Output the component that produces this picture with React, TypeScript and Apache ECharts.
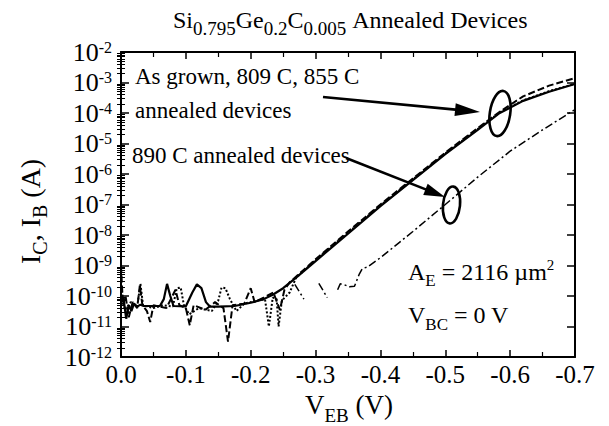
import React, { useEffect, useRef } from 'react';
import * as echarts from 'echarts';

const FONT = 'Liberation Serif, serif';

// ---- data (V_EB in volts, current in amperes) ----
const solidV = [0, -0.004, -0.008, -0.012, -0.016, -0.02, -0.025, -0.03, -0.035, -0.04, -0.06, -0.066, -0.071, -0.076, -0.081, -0.1, -0.11, -0.117, -0.124, -0.131, -0.137, -0.15, -0.175, -0.2, -0.22, -0.234, -0.25, -0.27, -0.3, -0.35, -0.4, -0.45, -0.5, -0.55, -0.584, -0.62, -0.66, -0.7];
const solidI = [1.0e-10, 7.9e-11, 1.8e-11, 5.0e-11, 3.2e-11, 5.6e-11, 4.5e-11, 5.2e-11, 4.7e-11, 4.7e-11, 4.7e-11, 7.9e-11, 2.5e-10, 1.0e-10, 4.7e-11, 4.6e-11, 1.3e-10, 2.4e-10, 1.8e-10, 6.3e-11, 4.5e-11, 4.5e-11, 4.7e-11, 6.0e-11, 7.9e-11, 1.1e-10, 1.8e-10, 4.0e-10, 1.4e-9, 1.1e-8, 8.9e-8, 6.3e-7, 4.5e-6, 2.8e-5, 1.0e-4, 2.5e-4, 5.0e-4, 8.9e-4];

const dashedV = [0, -0.003, -0.007, -0.012, -0.018, -0.025, -0.029, -0.033, -0.04, -0.045, -0.05, -0.07, -0.084, -0.09, -0.1, -0.106, -0.112, -0.13, -0.145, -0.158, -0.165, -0.172, -0.19, -0.2, -0.206, -0.22, -0.235, -0.245, -0.252, -0.26, -0.3, -0.35, -0.4, -0.45, -0.5, -0.55, -0.584, -0.62, -0.66, -0.7];
const dashedI = [1.0e-9, 5.0e-11, 1.0e-10, 2.0e-11, 6.3e-11, 4.0e-11, 2.2e-10, 5.0e-11, 3.2e-11, 1.4e-11, 5.0e-11, 4.0e-11, 1.6e-10, 5.0e-11, 4.0e-11, 1.1e-11, 5.0e-11, 3.5e-11, 6.3e-11, 4.0e-11, 3.2e-12, 5.0e-11, 5.6e-11, 1.8e-10, 6.3e-11, 8.9e-11, 1.3e-10, 3.5e-11, 1.6e-10, 2.8e-10, 1.6e-9, 1.3e-8, 1.0e-7, 7.1e-7, 5.0e-6, 3.2e-5, 1.1e-4, 3.5e-4, 7.9e-4, 1.4e-3];

const dottedV = [0, -0.006, -0.015, -0.025, -0.03, -0.034, -0.05, -0.065, -0.08, -0.086, -0.092, -0.097, -0.105, -0.12, -0.14, -0.15, -0.155, -0.161, -0.168, -0.178, -0.19, -0.21, -0.222, -0.228, -0.234, -0.24, -0.243, -0.248, -0.26, -0.27, -0.3, -0.35, -0.4, -0.45, -0.5, -0.55, -0.584, -0.62, -0.66, -0.7];
const dottedI = [2.0e-10, 3.5e-11, 6.3e-11, 4.5e-11, 2.5e-10, 5.0e-11, 4.0e-11, 5.0e-11, 4.5e-11, 1.8e-10, 1.9e-10, 5.0e-11, 2.5e-11, 4.0e-11, 3.2e-11, 7.1e-11, 1.9e-10, 1.8e-10, 7.9e-11, 3.2e-11, 5.6e-11, 7.1e-11, 7.9e-11, 1.0e-11, 8.9e-11, 7.9e-11, 1.0e-11, 7.1e-11, 1.3e-10, 4.0e-10, 1.5e-9, 1.2e-8, 9.3e-8, 6.6e-7, 4.7e-6, 3.0e-5, 1.05e-4, 2.6e-4, 5.2e-4, 9.1e-4];

const annealV = [-0.268, -0.282, -0.29, -0.305, -0.318, -0.326, -0.334, -0.338, -0.343, -0.352, -0.36, -0.367, -0.372, -0.38, -0.4, -0.45, -0.5, -0.55, -0.6, -0.65, -0.7];
const annealI = [2.4e-10, 7.9e-11, null, 2.6e-10, 8.9e-11, null, 1.6e-10, 2.5e-10, 2.4e-10, 2.0e-10, 2.1e-10, 5.0e-10, 7.9e-10, 8.9e-10, 1.8e-9, 1.3e-8, 1.0e-7, 7.9e-7, 5.6e-6, 2.8e-5, 1.3e-4];

// axis ranges / ticks
const X_MIN = -0.7;
const X_MAX = 0;
const X_STEP = 0.1;
const Y_MIN = 1e-12;
const Y_MAX = 1e-2;
const MINOR_LOG: number[] = [];
for (let n = -12; n < -2; n++) for (let k = 2; k <= 9; k++) MINOR_LOG.push(n + Math.log10(k));

// texts
const TITLE: [string, number, number][] = [
  ['Si', 24, 0], ['0.795', 19, 7], ['Ge', 24, 0], ['0.2', 19, 7], ['C', 24, 0], ['0.005', 19, 7], [' Annealed Devices', 24, 0],
];
const XNAME: [string, number, number][] = [['V', 27, 0], ['EB', 19, 8], [' (V)', 27, 0]];
const YNAME: [string, number, number][] = [['I', 28, 0], ['C', 20, 7], [', I', 28, 0], ['B', 20, 7], [' (A)', 28, 0]];
const AREA: [string, number, number][] = [['A', 24, 0], ['E', 17, 6], [' = 2116 \u00b5m', 24, 0], ['2', 15, -10]];
const VBC: [string, number, number][] = [['V', 24, 0], ['BC', 17, 7], [' = 0 V', 24, 0]];
const NOTE1 = 'As grown, 809 C, 855 C';
const NOTE2 = 'annealed devices';
const NOTE3 = '890 C annealed devices';

let measureCtx: CanvasRenderingContext2D | null = null;
function measure(t: string, size: number) {
  if (!measureCtx) measureCtx = document.createElement('canvas').getContext('2d');
  measureCtx!.font = `${size}px Liberation Serif, serif`;
  return measureCtx!.measureText(t).width;
}

function richText(pieces: [string, number, number][], x: number, y: number, rotated = false) {
  const els: any[] = [];
  let adv = 0;
  for (const [raw, size, dy] of pieces) {
    const lead = raw.length - raw.replace(/^\s+/, '').length;
    if (lead > 0) adv += measure(raw.slice(0, lead), size);
    const t = raw.slice(lead);
    const off = dy - 0.3375 * size;
    const px = rotated ? x + off : x + adv;
    const py = rotated ? y - adv : y + off;
    els.push({
      type: 'text', x: px, y: py, rotation: rotated ? Math.PI / 2 : 0, silent: true,
      style: { text: t, fontSize: size, fontFamily: FONT, fill: '#000', align: 'left', verticalAlign: 'middle', textAlign: 'left', textVerticalAlign: 'middle' },
    });
    adv += measure(t, size);
  }
  return els;
}

function arrow(x0: number, y0: number, x1: number, y1: number, len: number, hw: number, lw: number) {
  const dx = x1 - x0, dy = y1 - y0, d = Math.hypot(dx, dy), ux = dx / d, uy = dy / d;
  const bx = x1 - ux * len, by = y1 - uy * len;
  return [
    { type: 'line', silent: true, shape: { x1: x0, y1: y0, x2: bx + ux * 3, y2: by + uy * 3 }, style: { stroke: '#000', lineWidth: lw } },
    { type: 'polygon', silent: true, shape: { points: [[x1, y1], [bx - uy * hw, by + ux * hw], [bx + uy * hw, by - ux * hw]] }, style: { fill: '#000' } },
  ];
}

function ellipse(cx: number, cy: number, rx: number, ry: number, rot: number) {
  return { type: 'ellipse', silent: true, x: cx, y: cy, rotation: rot, shape: { cx: 0, cy: 0, rx, ry }, style: { fill: 'transparent', stroke: '#000', lineWidth: 2.6 } };
}

const toData = (vs: number[], is: (number | null)[]) => vs.map((v, k) => [v, is[k] == null ? '-' : is[k]]);

export default function App() {
  const ref = useRef<HTMLDivElement>(null);
  useEffect(() => {
    document.body.style.margin = '0';
    const chart = echarts.init(ref.current!, undefined, { renderer: 'svg' });
    const tickLine = { color: '#000', width: 1.5 };
    const xBase = {
      type: 'value', min: X_MIN, max: X_MAX, interval: X_STEP, inverse: true,
      axisLine: { show: true, onZero: false, lineStyle: { color: '#000', width: 2 } },
      axisTick: { show: true, inside: true, length: 7, lineStyle: tickLine },
      minorTick: { show: true, splitNumber: 2, length: 5, lineStyle: { color: '#000', width: 1.2 } },
      splitLine: { show: false },
    };
    const yLogBase = {
      type: 'log', logBase: 10, min: Y_MIN, max: Y_MAX, interval: 1,
      axisLine: { show: true, onZero: false, lineStyle: { color: '#000', width: 2 } },
      axisTick: { show: true, inside: true, length: 8, lineStyle: tickLine },
      splitLine: { show: false },
      minorTick: { show: false },
    };
    const yMinorBase = {
      type: 'value', min: -12, max: -2,
      axisLine: { show: false },
      axisTick: { show: true, inside: true, length: 4, customValues: MINOR_LOG, lineStyle: { color: '#000', width: 1 } },
      axisLabel: { show: false },
      splitLine: { show: false },
    };
    const graphics: any[] = [
      ...richText(TITLE, 173, 28),
      ...richText(XNAME, 305, 414),
      ...richText(YNAME, 40, 264, true),
      ...richText(AREA, 408, 280),
      ...richText(VBC, 408, 323),
      ...richText([[NOTE1, 23, 0]], 135, 84),
      ...richText([[NOTE2, 23, 0]], 135, 118),
      ...richText([[NOTE3, 23, 0]], 132, 163),
      ...arrow(323, 97, 480, 112, 25, 6.5, 2.6),
      ...arrow(346, 158, 445, 197, 21, 6, 2.6),
      ellipse(500, 113.5, 10.2, 22.8, -0.15),
      ellipse(451.5, 205, 8.5, 18.5, -0.1),
    ];
    chart.setOption({
      animation: false,
      backgroundColor: '#fff',
      textStyle: { fontFamily: FONT },
      grid: { left: 121, right: 34, top: 52, bottom: 69, containLabel: false, outerBoundsMode: 'none' },
      xAxis: [
        {
          ...xBase, position: 'bottom',
          axisLabel: { show: true, fontSize: 25, lineHeight: 20, fontFamily: FONT, color: '#000', margin: 7, formatter: (v: number) => (Math.abs(v) < 1e-9 ? '0.0' : v.toFixed(1)) },
        },
        { ...xBase, position: 'top', axisLabel: { show: false } },
      ],
      yAxis: [
        {
          ...yLogBase, position: 'left',
          axisLabel: {
            show: true, margin: 9,
            formatter: (v: number) => `{b|10}{s|${Math.round(Math.log10(v))}}`,
            rich: {
              b: { fontSize: 26, fontFamily: FONT, color: '#000', lineHeight: 26 },
              s: { fontSize: 16, fontFamily: FONT, color: '#000', lineHeight: 16, verticalAlign: 'top' },
            },
          },
        },
        { ...yLogBase, position: 'right', axisLabel: { show: false } },
        { ...yMinorBase, position: 'left' },
        { ...yMinorBase, position: 'right' },
      ],
      series: [
        { type: 'line', name: 'solid', data: toData(solidV, solidI), xAxisIndex: 0, yAxisIndex: 0, symbol: 'none', showSymbol: false, lineStyle: { color: '#000', width: 2.2, type: 'solid' }, z: 4 },
        { type: 'line', name: 'dashed', data: toData(dashedV, dashedI), xAxisIndex: 0, yAxisIndex: 0, symbol: 'none', showSymbol: false, lineStyle: { color: '#000', width: 2, type: [7, 3] }, z: 3 },
        { type: 'line', name: 'dotted', data: toData(dottedV, dottedI), xAxisIndex: 0, yAxisIndex: 0, symbol: 'none', showSymbol: false, lineStyle: { color: '#000', width: 2, type: [2, 2] }, z: 3 },
        { type: 'line', name: '890C', data: toData(annealV, annealI), xAxisIndex: 0, yAxisIndex: 0, symbol: 'none', showSymbol: false, connectNulls: false, lineStyle: { color: '#000', width: 1.5, type: [8, 3, 2, 3] }, z: 3 },
      ],
      graphic: graphics,
    });
    return () => chart.dispose();
  }, []);
  return <div ref={ref} style={{ width: 609, height: 426 }} />;
}
